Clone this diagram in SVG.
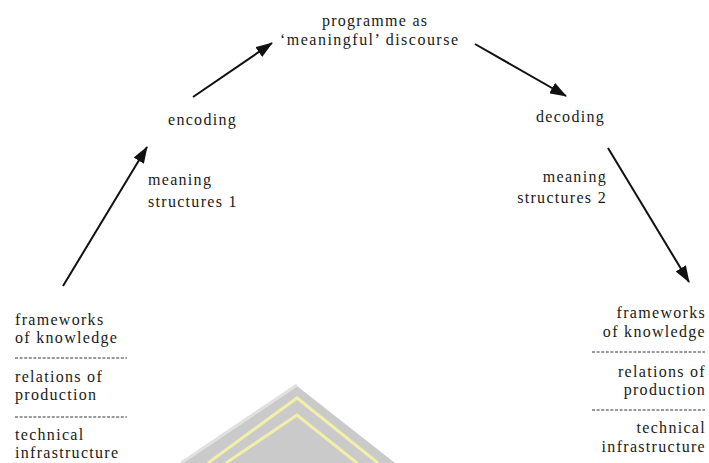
<svg xmlns="http://www.w3.org/2000/svg" width="709" height="463" viewBox="0 0 709 463">
<style>
text{font-family:"Liberation Serif","DejaVu Serif",serif;font-size:16px;letter-spacing:1.3px;fill:#1a1a1a}
.r{text-anchor:end}
.arr{stroke:#111;stroke-width:2;fill:none;marker-end:url(#ah)}
.dash{stroke:#333;stroke-width:1;stroke-dasharray:3 1.6;fill:none}
</style>
<defs>
<marker id="ah" markerUnits="userSpaceOnUse" markerWidth="17" markerHeight="12" viewBox="0 0 17 12" refX="16" refY="6" orient="auto">
<path d="M0,0 L17,6 L0,12 Z" fill="#111"/>
</marker>
</defs>
<rect width="709" height="463" fill="#fff"/>
<g id="watermark">
<polygon points="297,386 183,463 395,463" fill="#cacaca"/>
<line x1="297" y1="385" x2="181" y2="463" stroke="#e0e0e0" stroke-width="3"/>
<polyline points="208,463 297,398 378,463" stroke="#f2efa8" stroke-width="3" fill="none"/>
<polyline points="226,463 297,415 357,463" stroke="#f2efa8" stroke-width="3" fill="none"/>
</g>
<g id="connectors">
<line class="arr" x1="63" y1="286" x2="147" y2="147"/>
<line class="arr" x1="193" y1="97" x2="272" y2="43"/>
<line class="arr" x1="475" y1="44" x2="566" y2="96"/>
<line class="arr" x1="608" y1="148" x2="689" y2="282"/>
</g>
<g id="programme">
<text x="322" y="26" textLength="105" lengthAdjust="spacing" style="letter-spacing:0">programme as</text>
<text x="280" y="45" textLength="178" lengthAdjust="spacing" style="letter-spacing:0">‘meaningful’ discourse</text>
</g>
<g id="encoding">
<text x="168" y="125">encoding</text>
</g>
<g id="meaning1">
<text x="148" y="185">meaning</text>
<text x="148" y="207">structures 1</text>
</g>
<g id="decoding">
<text x="536" y="122">decoding</text>
</g>
<g id="meaning2">
<text class="r" x="607" y="182">meaning</text>
<text class="r" x="607" y="203">structures 2</text>
</g>
<g id="left-stack">
<text x="15" y="325">frameworks</text>
<text x="15" y="343">of knowledge</text>
<line class="dash" x1="15" y1="358" x2="127" y2="358"/>
<text x="15" y="382">relations of</text>
<text x="15" y="400">production</text>
<line class="dash" x1="15" y1="417" x2="127" y2="417"/>
<text x="15" y="440">technical</text>
<text x="15" y="458">infrastructure</text>
</g>
<g id="right-stack">
<text class="r" x="706" y="318">frameworks</text>
<text class="r" x="706" y="337">of knowledge</text>
<line class="dash" x1="592" y1="352" x2="705" y2="352"/>
<text class="r" x="706" y="377">relations of</text>
<text class="r" x="706" y="395">production</text>
<line class="dash" x1="592" y1="410" x2="705" y2="410"/>
<text class="r" x="706" y="433">technical</text>
<text class="r" x="706" y="452">infrastructure</text>
</g>
</svg>
